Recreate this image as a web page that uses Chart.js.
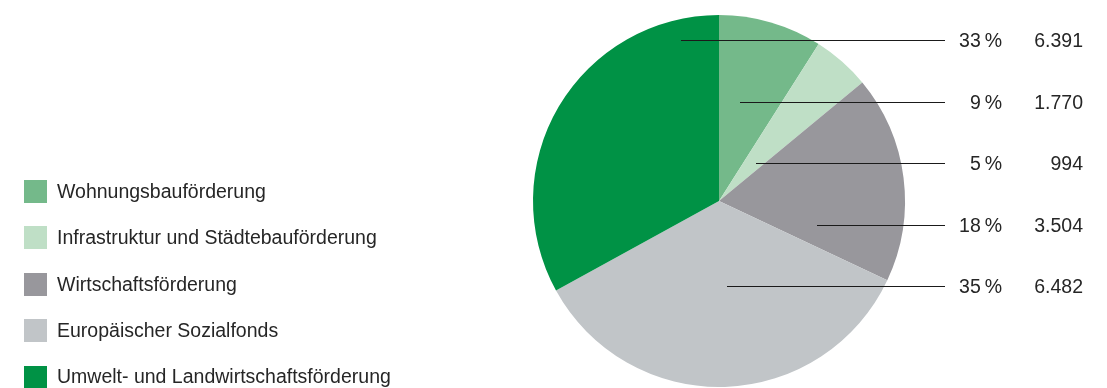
<!DOCTYPE html>
<html>
<head>
<meta charset="utf-8">
<script src="https://cdn.jsdelivr.net/npm/chart.js@4"></script>
<style>
  html, body { margin: 0; padding: 0; background: #fff; }
  #wrap { width: 1107px; height: 388px; }
</style>
</head>
<body>
<div id="wrap"><canvas id="pie" width="1107" height="388"></canvas></div>
<script>
const categories = [
  'Wohnungsbauförderung',
  'Infrastruktur und Städtebauförderung',
  'Wirtschaftsförderung',
  'Europäischer Sozialfonds',
  'Umwelt- und Landwirtschaftsförderung'
];
const shares = [9, 5, 18, 35, 33];            // percent
const amounts = ['1.770', '994', '3.504', '6.482', '6.391'];
const labelOrder = [4, 0, 1, 2, 3];           // order of the rows on the right

const colors = ['#74b98a', '#bfdfc6', '#98979c', '#c1c5c8', '#009245'];
const FONT = '19.5px "Liberation Sans", Arial, sans-serif';
const TEXT = '#262626';

// where each leader line starts inside its slice (x offset from centre, px)
const leaderStartX = [21, 37, 98, 8, -38];

const labelsPlugin = {
  id: 'sideLabels',
  afterDraw(c) {
    const ctx = c.ctx;
    const arc = c.getDatasetMeta(0).data[0];
    const cx = arc.x, cy = arc.y;
    ctx.save();
    ctx.font = FONT;
    ctx.textBaseline = 'middle';

    // leader lines + numbers
    labelOrder.forEach((idx, row) => {
      const y = Math.round(cy - 161 + row * 61.5) + 0.5;
      ctx.strokeStyle = '#1a1a1a';
      ctx.lineWidth = 1.2;
      ctx.beginPath();
      ctx.moveTo(cx + leaderStartX[idx], y);
      ctx.lineTo(cx + 226, y);
      ctx.stroke();

      ctx.fillStyle = TEXT;
      ctx.textAlign = 'right';
      ctx.fillText(shares[idx] + '\u2009%', cx + 283, y + 1);
      ctx.fillText(amounts[idx], cx + 364, y + 1);
    });

    // legend on the left
    ctx.textAlign = 'left';
    categories.forEach((name, i) => {
      const y = 191.5 + i * 46.4;
      ctx.fillStyle = colors[i];
      ctx.fillRect(24, Math.round(y - 11.5), 23, 23);
      ctx.fillStyle = TEXT;
      ctx.fillText(name, 57, y + 1);
    });
    ctx.restore();
  }
};

new Chart(document.getElementById('pie'), {
  type: 'pie',
  data: {
    labels: categories,
    datasets: [{
      data: shares,
      backgroundColor: colors,
      borderWidth: 0
    }]
  },
  options: {
    responsive: false,
    animation: false,
    layout: { padding: { left: 533, right: 202, top: 15, bottom: 1 } },
    plugins: {
      legend: { display: false },
      tooltip: { enabled: false }
    }
  },
  plugins: [labelsPlugin]
});
</script>
</body>
</html>
